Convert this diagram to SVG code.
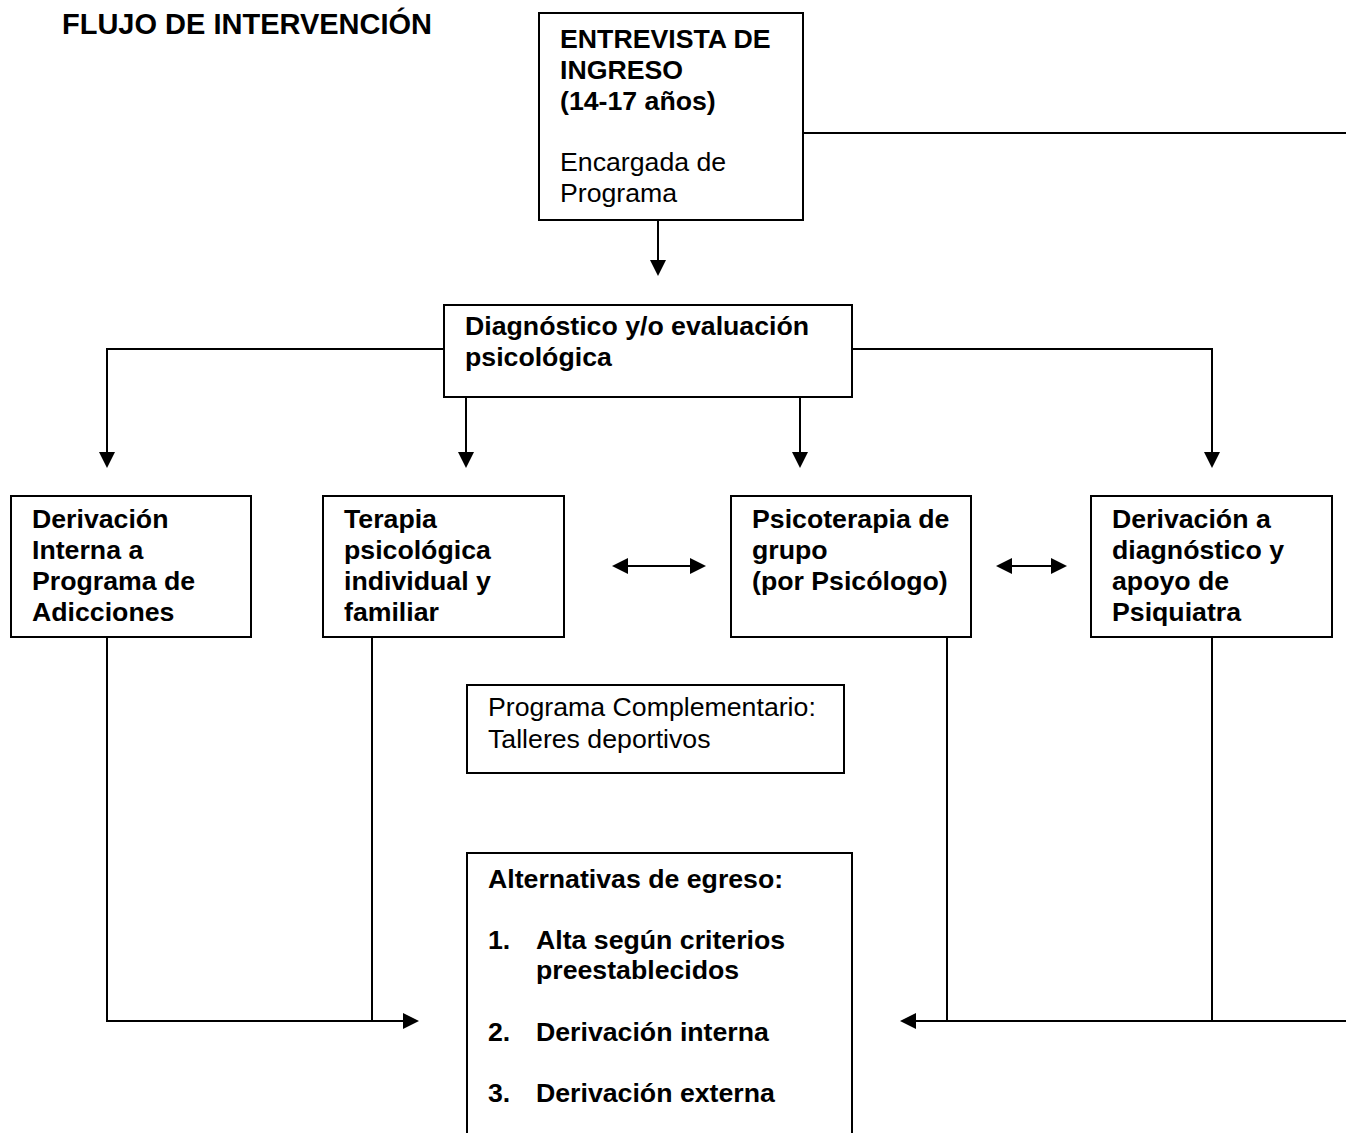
<svg xmlns="http://www.w3.org/2000/svg" width="1346" height="1133" viewBox="0 0 1346 1133">
  <defs>
    <style>
      .box { fill: #ffffff; stroke: #000000; stroke-width: 2; }
      .t { font-family: "Liberation Sans", Arial, sans-serif; font-size: 26.7px; fill: #000000; }
      .b { font-weight: bold; }
      .title { font-size: 29px; }
      .conn { fill: none; stroke: #000000; stroke-width: 2; }
    </style>
    <marker id="arrow" markerUnits="userSpaceOnUse" markerWidth="16" markerHeight="16" refX="5" refY="8" orient="auto-start-reverse" viewBox="0 0 16 16">
      <path d="M0,0 L16,8 L0,16 z" fill="#000000"/>
    </marker>
  </defs>
  <rect width="1346" height="1133" fill="#ffffff"/>

  <text class="t b title" x="62" y="34">FLUJO DE INTERVENCIÓN</text>

  <g id="connectors">
    <path class="conn" d="M803,133 H1346"/>
    <path class="conn" d="M658,221 V265" marker-end="url(#arrow)"/>
    <path class="conn" d="M444,349 H107 V457" marker-end="url(#arrow)"/>
    <path class="conn" d="M852,349 H1212 V457" marker-end="url(#arrow)"/>
    <path class="conn" d="M466,397 V457" marker-end="url(#arrow)"/>
    <path class="conn" d="M800,397 V457" marker-end="url(#arrow)"/>
    <path class="conn" d="M623,566 H695" marker-start="url(#arrow)" marker-end="url(#arrow)"/>
    <path class="conn" d="M1007,566 H1056" marker-start="url(#arrow)" marker-end="url(#arrow)"/>
    <path class="conn" d="M107,637 V1021 H408" marker-end="url(#arrow)"/>
    <path class="conn" d="M372,637 V1021"/>
    <path class="conn" d="M1346,1021 H911" marker-end="url(#arrow)"/>
    <path class="conn" d="M947,637 V1021"/>
    <path class="conn" d="M1212,637 V1021"/>
  </g>

  <g id="entrevista">
    <rect class="box" x="539" y="13" width="264" height="207"/>
    <text class="t b" x="560" y="48">ENTREVISTA DE</text>
    <text class="t b" x="560" y="79">INGRESO</text>
    <text class="t b" x="560" y="110">(14-17 años)</text>
    <text class="t" x="560" y="171">Encargada de</text>
    <text class="t" x="560" y="202">Programa</text>
  </g>

  <g id="diagnostico">
    <rect class="box" x="444" y="305" width="408" height="92"/>
    <text class="t b" x="465" y="335">Diagnóstico y/o evaluación</text>
    <text class="t b" x="465" y="366">psicológica</text>
  </g>

  <g id="adicciones">
    <rect class="box" x="11" y="496" width="240" height="141"/>
    <text class="t b" x="32" y="528">Derivación</text>
    <text class="t b" x="32" y="559">Interna a</text>
    <text class="t b" x="32" y="590">Programa de</text>
    <text class="t b" x="32" y="621">Adicciones</text>
  </g>

  <g id="terapia">
    <rect class="box" x="323" y="496" width="241" height="141"/>
    <text class="t b" x="344" y="528">Terapia</text>
    <text class="t b" x="344" y="559">psicológica</text>
    <text class="t b" x="344" y="590">individual y</text>
    <text class="t b" x="344" y="621">familiar</text>
  </g>

  <g id="psicoterapia">
    <rect class="box" x="731" y="496" width="240" height="141"/>
    <text class="t b" x="752" y="528">Psicoterapia de</text>
    <text class="t b" x="752" y="559">grupo</text>
    <text class="t b" x="752" y="590">(por Psicólogo)</text>
  </g>

  <g id="psiquiatra">
    <rect class="box" x="1091" y="496" width="241" height="141"/>
    <text class="t b" x="1112" y="528">Derivación a</text>
    <text class="t b" x="1112" y="559">diagnóstico y</text>
    <text class="t b" x="1112" y="590">apoyo de</text>
    <text class="t b" x="1112" y="621">Psiquiatra</text>
  </g>

  <g id="complementario">
    <rect class="box" x="467" y="685" width="377" height="88"/>
    <text class="t" x="488" y="716">Programa Complementario:</text>
    <text class="t" x="488" y="748">Talleres deportivos</text>
  </g>

  <g id="egreso">
    <rect class="box" x="467" y="853" width="385" height="300"/>
    <text class="t b" x="488" y="888">Alternativas de egreso:</text>
    <text class="t b" x="488" y="949">1.</text>
    <text class="t b" x="536" y="949">Alta según criterios</text>
    <text class="t b" x="536" y="979">preestablecidos</text>
    <text class="t b" x="488" y="1041">2.</text>
    <text class="t b" x="536" y="1041">Derivación interna</text>
    <text class="t b" x="488" y="1102">3.</text>
    <text class="t b" x="536" y="1102">Derivación externa</text>
  </g>
</svg>
